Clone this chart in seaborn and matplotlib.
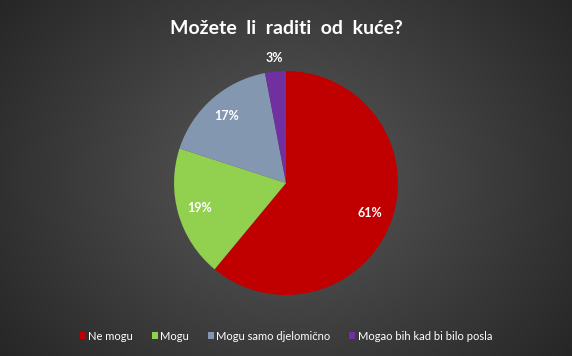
import numpy as np
import matplotlib
matplotlib.use("Agg")
import matplotlib.pyplot as plt
import seaborn as sns
from matplotlib.patches import Patch

# data
categories = ["Ne mogu", "Mogu", "Mogu samo djelomično", "Mogao bih kad bi bilo posla"]
shares = [61, 19, 17, 3]
colors = ["#C00000", "#92D050", "#8497B0", "#7030A0"]

sns.set_theme(style="dark")
plt.rcParams['font.family'] = ['Lato', 'DejaVu Sans']

fig = plt.figure(figsize=(5.72, 3.56), dpi=100)

# radial gradient background
bg = fig.add_axes([0, 0, 1, 1])
xx, yy = np.meshgrid(np.linspace(-1, 1, 572), np.linspace(-1, 1, 356))
rr = np.sqrt(xx**2 + (yy * 0.75)**2)
shade = 0.35 - 0.2 * np.clip(rr / 1.25, 0, 1)
bg.imshow(np.dstack([shade, shade, shade]), aspect="auto", extent=[0, 1, 0, 1])
bg.set_axis_off()

ax = fig.add_axes([0.5 - 0.196, 0.486 - 0.3146, 0.392, 0.629])
pal = sns.color_palette(colors)
wedges, texts, autotexts = ax.pie(shares, colors=pal, startangle=90, counterclock=False,
                                  autopct="%d%%", pctdistance=0.8,
                                  textprops=dict(color="white", fontsize=9, fontweight="bold"),
                                  wedgeprops=dict(linewidth=0))
autotexts[3].set_position((-0.1, 1.12))
ax.set_xlim(-1, 1)
ax.set_ylim(-1, 1)
ax.set_aspect("equal")
ax.set_axis_off()

fig.text(0.5, 0.92, "Možete  li  raditi  od  kuće?", ha="center", va="center",
         color="white", fontsize=14, fontweight="bold")

handles = [Patch(facecolor=c, edgecolor="none") for c in colors]
fig.legend(handles, categories, loc="center", bbox_to_anchor=(0.5, 0.056), ncol=4,
           frameon=False, fontsize=8, labelcolor="white", handlelength=0.55,
           handleheight=0.55, handletextpad=0.2, columnspacing=1.7)

fig.savefig("out.png", dpi=100)
